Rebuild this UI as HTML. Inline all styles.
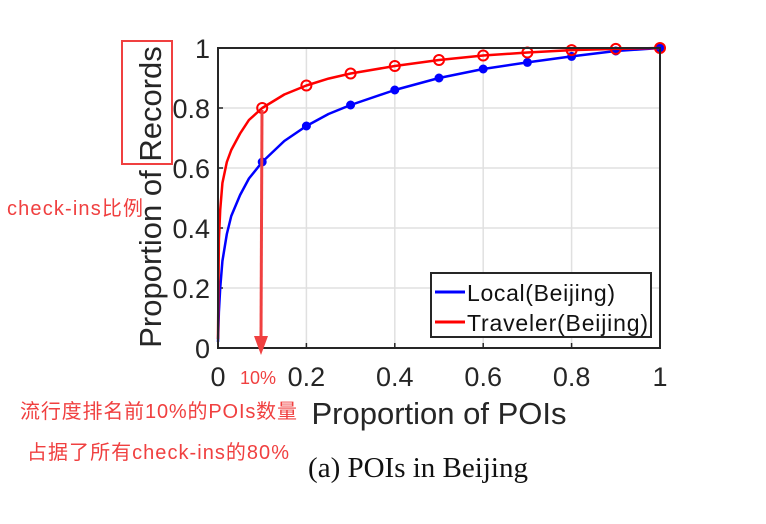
<!DOCTYPE html>
<html><head><meta charset="utf-8"><style>
body{margin:0;background:#fff;width:766px;height:519px;overflow:hidden;font-family:"Liberation Sans","Noto Sans CJK SC",sans-serif}
</style></head><body>
<svg width="766" height="519" viewBox="0 0 766 519">
<g id="grid"></g>
<g id="ticks"></g>
<g id="series"></g>
<rect x="218" y="48" width="442" height="300" fill="none" stroke="#262626" stroke-width="2"/>
<text x="0" y="0" transform="translate(161,197) rotate(-90)" text-anchor="middle" font-size="31" fill="#262626">Proportion of Records</text>
<text x="439" y="424" text-anchor="middle" font-size="31" fill="#262626">Proportion of POIs</text>
<text x="418" y="477" text-anchor="middle" font-size="29" fill="#111" font-family="Liberation Serif,serif">(a)  POIs in Beijing</text>
<g>
<rect x="431" y="273" width="220" height="64" fill="#fff" stroke="#262626" stroke-width="2"/>
<line x1="435" y1="292" x2="465" y2="292" stroke="#0000ff" stroke-width="3"/>
<text x="467" y="301" font-size="23" fill="#111" textLength="148">Local(Beijing)</text>
<line x1="435" y1="322" x2="465" y2="322" stroke="#ff0000" stroke-width="3"/>
<text x="467" y="331" font-size="23" fill="#111" textLength="181">Traveler(Beijing)</text>
</g>
<g>
<rect x="122" y="41" width="50" height="123" fill="none" stroke="#f04040" stroke-width="2"/>
<line x1="262" y1="110" x2="261" y2="338" stroke="#f04040" stroke-width="3"/>
<polygon points="254,336 268,336 261,355" fill="#f04040"/>
<text x="7" y="215" font-size="20" fill="#f04040" textLength="136">check-ins比例</text>
<text x="240" y="384" font-size="18" fill="#f04040">10%</text>
<text x="20" y="418" font-size="20" fill="#f04040" textLength="277">流行度排名前10%的POIs数量</text>
<text x="27" y="459" font-size="20" fill="#f04040" textLength="262">占据了所有check-ins的80%</text>
</g>
</svg>
<script>
const xTicks=[0,0.2,0.4,0.6,0.8,1];
const xTickLabels=["0","0.2","0.4","0.6","0.8","1"];
const yTicks=[0,0.2,0.4,0.6,0.8,1];
const yTickLabels=["0","0.2","0.4","0.6","0.8","1"];
const curveX=[0,0.002,0.005,0.01,0.02,0.03,0.05,0.07,0.1,0.15,0.2,0.25,0.3,0.4,0.5,0.6,0.7,0.8,0.9,1];
const localY=[0.02,0.12,0.2,0.29,0.38,0.44,0.51,0.565,0.62,0.69,0.74,0.78,0.81,0.86,0.9,0.93,0.952,0.972,0.99,1];
const travelerY=[0.03,0.36,0.46,0.55,0.62,0.66,0.715,0.76,0.8,0.845,0.875,0.898,0.915,0.94,0.96,0.975,0.985,0.993,0.997,1];
const markerX=[0.1,0.2,0.3,0.4,0.5,0.6,0.7,0.8,0.9,1];
const X=v=>218+v*442, Y=v=>348-v*300;
const NS="http://www.w3.org/2000/svg";
function mk(tag,attrs,parent){const e=document.createElementNS(NS,tag);for(const k in attrs)e.setAttribute(k,attrs[k]);document.getElementById(parent).appendChild(e);return e;}
xTicks.forEach((t,i)=>{
 if(t>0&&t<1){const g=mk('line',{x1:X(t),x2:X(t),y1:48,y2:348,stroke:'#e0e0e0','stroke-width':1.5},'grid');
 
 }
 const tk=mk('line',{x1:X(t),x2:X(t),y1:348,y2:343,stroke:'#262626','stroke-width':1.5},'ticks');
 
 
 const l=mk('text',{x:X(t),y:386,'text-anchor':'middle','font-size':27,fill:'#262626'},'ticks');l.textContent=xTickLabels[i];
 
 
});
yTicks.forEach((t,i)=>{
 if(t>0&&t<1){const g=mk('line',{x1:218,x2:660,y1:Y(t),y2:Y(t),stroke:'#e0e0e0','stroke-width':1.5},'grid');
 
 }
 const tk=mk('line',{x1:218,x2:223,y1:Y(t),y2:Y(t),stroke:'#262626','stroke-width':1.5},'ticks');
 
 
 const l=mk('text',{x:210,y:Y(t)+10,'text-anchor':'end','font-size':27,fill:'#262626'},'ticks');l.textContent=yTickLabels[i];
 
 
});
function interp(xs,ys,x){for(let i=0;i<xs.length-1;i++){if(x>=xs[i]-1e-9&&x<=xs[i+1]+1e-9){const f=(x-xs[i])/(xs[i+1]-xs[i]);return ys[i]+f*(ys[i+1]-ys[i]);}}return ys[ys.length-1];}
function drawSeries(ys,color,name,marker){
 const pts=curveX.map((x,i)=>X(x)+','+Y(ys[i])).join(' ');
 const p=mk('polyline',{points:pts,fill:'none',stroke:color,'stroke-width':2.5,'stroke-linejoin':'round'},'series');
 
 
 markerX.forEach(mx=>{const v=interp(curveX,ys,mx);let m;
  if(marker==='o'){m=mk('circle',{cx:X(mx),cy:Y(v),r:5,fill:'none',stroke:color,'stroke-width':2},'series');}
  else{m=mk('circle',{cx:X(mx),cy:Y(v),r:4,fill:color,stroke:color,'stroke-width':1},'series');}
  
  });
}
drawSeries(localY,'#0000ff','local','*');
drawSeries(travelerY,'#ff0000','traveler','o');
</script>
</body></html>
